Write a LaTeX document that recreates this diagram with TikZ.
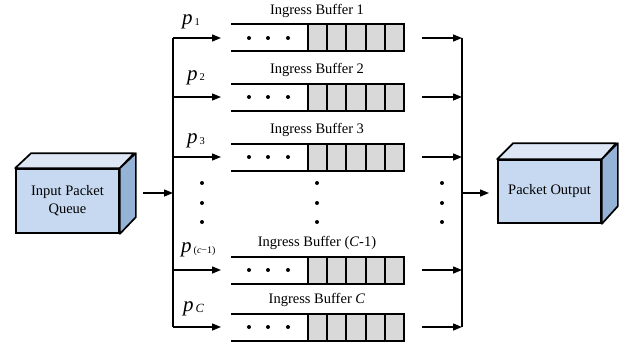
\documentclass[tikz,border=0pt]{standalone}
\usepackage{fontspec}
\setmainfont{Liberation Serif}
\usetikzlibrary{arrows.meta}
\definecolor{faceblue}{HTML}{C6D9F1}
\definecolor{topblue}{HTML}{DCE6F4}
\definecolor{sideblue}{HTML}{95B3D7}
\definecolor{cellgray}{HTML}{D9D9D9}
\tikzset{
  arr/.style={line width=1.4pt,-{Triangle[length=9pt,width=7pt]}},
  bus/.style={line width=1.4pt},
  bufline/.style={line width=2pt},
  cell/.style={line width=2pt,fill=cellgray},
  front/.style={draw,line width=1.7pt,fill=faceblue,align=center,inner sep=0pt,
    font=\fontsize{14.5}{18}\selectfont},
  topface/.style={draw,line width=1.7pt,fill=topblue,line join=round},
  sideface/.style={draw,line width=1.7pt,fill=sideblue,line join=round},
  buflabel/.style={font=\fontsize{14.5}{17}\selectfont,inner sep=0pt},
  plabel/.style={inner sep=0pt,anchor=base west},
  dot/.style={circle,fill=black,inner sep=0pt,minimum size=4pt}
}
\newcommand{\pname}[1]{{\fontsize{21}{21}\selectfont\itshape p}\hspace{2pt}{\fontsize{10.5}{11}\selectfont\raisebox{-1pt}{#1}}}
\begin{document}
\begin{tikzpicture}[x=1pt,y=-1pt]
\useasboundingbox (0,0) rectangle (626,345);

% input queue block
\node[front,minimum width=103pt,minimum height=64pt] (inq) at (67.5,201) {Input Packet\\Queue};
\draw[topface] (inq.north west) -- ++(16,-15) -- ++(103,0) -- (inq.north east) -- cycle;
\draw[sideface] (inq.north east) -- ++(16,-15) -- ++(0,64) -- (inq.south east) -- cycle;

% output block
\node[front,minimum width=103pt,minimum height=63pt] (outq) at (549.5,191.5) {Packet Output};
\draw[topface] (outq.north west) -- ++(16,-16) -- ++(103,0) -- (outq.north east) -- cycle;
\draw[sideface] (outq.north east) -- ++(16,-16) -- ++(0,63) -- (outq.south east) -- cycle;

% ingress buffers
\foreach \i/\y/\lab in {1/38/{1},2/97/{2},3/157/{3},4/270/{(\textit{C}-1)},5/327/{\textit{C}}}{
  \node[minimum width=173pt,minimum height=27pt,inner sep=0pt] (buf\i) at (317.5,\y) {};
  \draw[bufline] (231,\y-13.5) -- (308,\y-13.5);
  \draw[bufline] (231,\y+13.5) -- (308,\y+13.5);
  \foreach \k in {0,...,4}
    \draw[cell] ({308+\k*19.2},\y-13.5) rectangle ++(19.2,27);
  \foreach \dx in {249,268,288}
    \node[dot] at (\dx,\y) {};
  \node[buflabel] (lab\i) at (317,\y-27) {Ingress Buffer \lab};
  \coordinate (L\i) at (173,\y);
  \coordinate (Lin\i) at (221,\y);
  \coordinate (Rout\i) at (422,\y);
  \coordinate (R\i) at (462,\y);
  \draw[arr] (L\i) -- (Lin\i);
  \draw[arr] (Rout\i) -- (R\i);
}

% distribution labels
\node[plabel] (p1) at (182,25) {\pname{1}};
\node[plabel] (p2) at (187,80) {\pname{2}};
\node[plabel] (p3) at (187,143) {\pname{3}};
\node[plabel] (p4) at (181,252) {\pname{\fontsize{10}{10}\selectfont(\textit{c}−1)}};
\node[plabel] (p5) at (183,311) {\pname{\fontsize{12.5}{12}\selectfont\textit{C}}};

% buses
\draw[bus] (L1) -- (L5);
\draw[bus] (R1) -- (R5);
\coordinate (inbus) at (173,193);
\coordinate (outbus) at (462,193);
\coordinate (inarr) at (143,193);
\coordinate (outarr) at (489,193);
\draw[arr] (inarr) -- (inbus);
\draw[arr] (outbus) -- (outarr);

% ellipsis dots
\foreach \dx in {202,317,442}
  \foreach \dy in {183,203,222}
    \node[dot] at (\dx,\dy) {};
\end{tikzpicture}
\end{document}
